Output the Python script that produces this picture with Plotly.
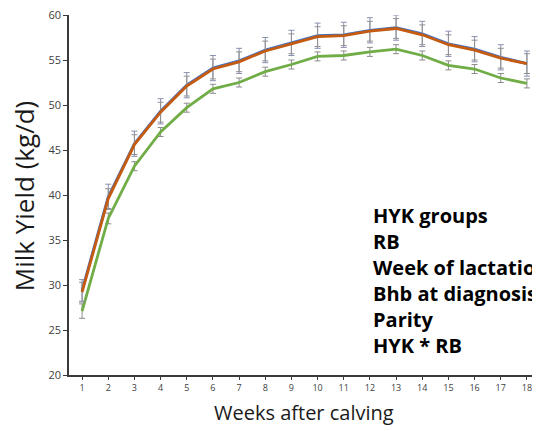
import plotly.graph_objects as go

weeks = list(range(1, 19))
blue_vals = [29.4, 39.8, 45.7, 49.3, 52.2, 54.1, 54.9, 56.1, 56.9, 57.7, 57.8, 58.3, 58.6, 57.9, 56.8, 56.2, 55.3, 54.6]
blue_err = [1.2, 1.4, 1.4, 1.4, 1.4, 1.4, 1.4, 1.4, 1.4, 1.4, 1.4, 1.4, 1.4, 1.4, 1.4, 1.4, 1.4, 1.4]
orange_vals = [29.2, 39.6, 45.6, 49.2, 52.1, 54.0, 54.8, 56.0, 56.8, 57.6, 57.7, 58.2, 58.5, 57.8, 56.7, 56.1, 55.2, 54.6]
orange_err = [1.1, 1.1, 1.1, 1.1, 1.1, 1.1, 1.1, 1.1, 1.1, 1.1, 1.1, 1.1, 1.1, 1.1, 1.1, 1.1, 1.1, 1.1]
green_vals = [27.1, 37.4, 43.2, 47.0, 49.7, 51.8, 52.5, 53.7, 54.5, 55.4, 55.5, 55.9, 56.2, 55.5, 54.4, 54.0, 53.0, 52.4]
green_err = [0.8, 0.6, 0.5, 0.5, 0.5, 0.5, 0.5, 0.5, 0.5, 0.5, 0.5, 0.5, 0.5, 0.5, 0.5, 0.5, 0.5, 0.5]
y_ticks = [20, 25, 30, 35, 40, 45, 50, 55, 60]
notes = ["HYK groups", "RB", "Week of lactation", "Bhb at diagnosis", "Parity", "HYK * RB"]

# page has an 8px body margin; figure coordinates are page coordinates minus 8
OFF = 8
W, H = 540 - OFF, 431 - OFF
L, R, T = 69 - OFF, 0, 15 - OFF
B = H - (374.7 - OFF)
pw, ph = W - L - R, H - T - B


def px_x(x):
    return (x - OFF - L) / pw


def px_y(y):
    return 1 - (y - OFF - T) / ph


fig = go.Figure()
series = [
    (green_vals, green_err, "#70AD47", "#8c8c8c"),
    (blue_vals, blue_err, "#4472C4", "#8a90b0"),
    (orange_vals, orange_err, "#C55A11", "#909090"),
]
for vals, err, col, ecol in series:
    fig.add_trace(go.Scatter(
        x=weeks, y=vals, mode="lines",
        line=dict(color=col, width=2.8),
        error_y=dict(type="data", array=err, visible=True, color=ecol, thickness=1, width=3),
        showlegend=False,
    ))

fig.add_annotation(
    x=px_x(24), xref="paper", y=px_y(196), yref="paper", xanchor="center", yanchor="middle",
    text="Milk Yield (kg/d)", textangle=-90, showarrow=False,
    font=dict(family="Open Sans", size=26, color="#1a1a1a"),
)
fig.add_annotation(
    x=px_x(304), xref="paper", y=px_y(412), yref="paper", xanchor="center", yanchor="middle",
    text="Weeks after calving", showarrow=False,
    font=dict(family="Open Sans", size=20, color="#1a1a1a"),
)

fig.add_annotation(
    x=px_x(371), xref="paper", y=px_y(280), yref="paper", showarrow=False,
    text="<br>".join("<b>" + t + "</b>" for t in notes), xanchor="left", yanchor="middle",
    align="left", font=dict(family="Open Sans", size=20, color="#000000"),
)

fig.update_layout(
    width=W, height=H,
    margin=dict(l=L, r=R, t=T, b=B, autoexpand=False),
    paper_bgcolor="white", plot_bgcolor="white",
    font=dict(family="Open Sans", color="#404040"),
    xaxis=dict(
        range=[0.5, 18.5], tickmode="array", tickvals=weeks, ticktext=[str(w) for w in weeks],
        showgrid=False, zeroline=False, showline=True, linecolor="#3a3a3a", linewidth=1.5,
        ticks="outside", ticklen=3, tickcolor="#3a3a3a", tickfont=dict(size=9, color="#404040"),
        automargin=False, ticklabeloverflow="allow",
    ),
    yaxis=dict(
        range=[20, 60], tickmode="array", tickvals=y_ticks,
        showgrid=False, zeroline=False, showline=True, linecolor="#3a3a3a", linewidth=1.5,
        ticks="outside", ticklen=4, tickcolor="#3a3a3a", tickfont=dict(size=11, color="#404040"),
        automargin=False, ticklabeloverflow="allow",
    ),
)

fig.write_html("out.html")
